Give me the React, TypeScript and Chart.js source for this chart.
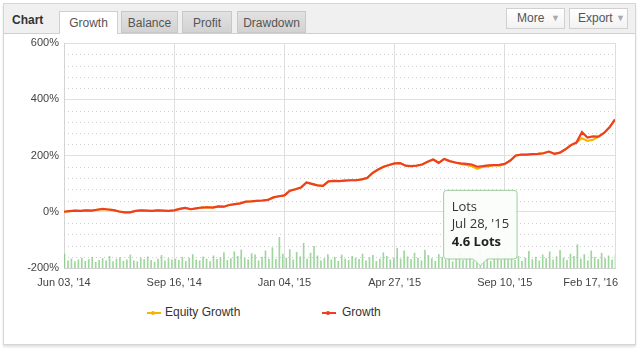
import React, { useEffect, useRef } from "react";
import { Chart, registerables, Tooltip } from "chart.js";

Chart.register(...registerables);

// ---- data ----
const xTickLabels = ["Jun 03, '14", "Sep 16, '14", "Jan 04, '15", "Apr 27, '15", "Sep 10, '15", "Feb 17, '16"];

const growth = [
  0, 2, 4, 3, 5, 4, 7, 10, 8, 6,
  1, -2, -2, 3, 5, 4, 3, 5, 4, 3,
  5, 10, 14, 9, 12, 15, 16, 15, 19, 18,
  24, 27, 30, 36, 37, 39, 40, 42, 51, 55,
  58, 75, 80, 86, 104, 99, 94, 92, 108, 110,
  109, 111, 112, 112, 115, 120, 138, 150, 160, 166,
  172, 173, 164, 162, 164, 168, 178, 186, 174, 188,
  180, 175, 172, 170, 168, 160, 162, 165, 166, 167,
  170, 182, 200, 203, 203, 205, 206, 208, 214, 206,
  210, 222, 237, 246, 283, 264, 268, 267, 280, 300,
  328,
];

const equityGrowth = [
  0, 2, 4, 3, 5, 4, 7, 10, 8, 6,
  1, -2, -2, 3, 5, 4, 3, 5, 4, 3,
  5, 10, 14, 9, 12, 15, 16, 15, 19, 18,
  24, 27, 30, 36, 37, 39, 40, 42, 51, 55,
  58, 75, 80, 86, 104, 99, 94, 92, 108, 110,
  109, 111, 112, 112, 115, 120, 138, 150, 160, 166,
  172, 173, 164, 162, 164, 168, 178, 186, 174, 188,
  180, 175, 170, 166, 162, 152, 160, 161, 166, 164,
  170, 182, 200, 203, 203, 205, 206, 208, 214, 206,
  210, 222, 237, 246, 262, 252, 256, 267, 280, 300,
  328,
];

const lots = [
  3.1, 1.6, 2.0, 1.4, 1.8, 2.2, 1.5, 1.9, 2.4, 1.3, 1.7, 2.1, 1.6, 2.6, 1.4, 2.0,
  2.3, 1.5, 1.8, 2.9, 1.6, 1.4, 2.2, 1.9, 2.5, 1.7, 1.3, 2.0, 2.8, 1.6, 2.1, 1.8,
  2.0, 1.7, 2.4, 1.5, 2.2, 3.0, 1.8, 1.6, 2.5, 2.0, 1.4, 2.7, 1.9, 2.3, 3.4, 1.7,
  2.1, 3.6, 2.6, 4.0, 2.2, 1.8, 3.2, 2.9, 1.6, 2.4, 3.8, 2.0, 4.5, 1.9, 6.8, 3.1,
  2.2, 4.1, 1.8, 3.5, 2.5, 5.5, 2.0, 3.3, 4.8, 2.7, 1.6, 2.1, 3.0, 1.8, 2.4, 1.5,
  2.9, 2.0, 1.7, 2.6, 2.2, 1.9, 3.1, 1.6, 2.3, 2.8, 1.5, 2.0, 3.4, 2.6, 1.8, 2.2,
  4.4, 2.0, 3.8, 2.5, 1.9, 3.3, 2.2, 1.6, 4.0, 2.8, 2.1, 1.5, 3.0, 2.4, 1.8, 2.6,
  1.4, 2.2, 3.5, 1.7, 2.0, 2.9, 1.6, 2.3, 4.6, 1.9, 2.5, 1.5, 2.1, 3.2, 1.8, 2.4,
  2.0, 3.4, 1.7, 2.6, 1.5, 2.2, 3.7, 1.9, 2.4, 1.6, 2.9, 2.1, 3.6, 1.8, 2.5, 3.9,
  2.2, 1.7, 3.1, 2.6, 5.2, 2.0, 3.0, 1.6, 3.8, 2.4, 1.9, 3.3, 2.1, 2.7, 1.8, 3.0,
];

const tooltipIndex = 120;
const tooltipDate = "Jul 28, '15";

const yMin = -200;
const yMax = 600;
const yMajorStep = 200;
const yMinorStep = 40;
const xTickStep = 20;
const lotsAxisMax = 50;

const FONT = '"Liberation Sans", Arial, sans-serif';

(Tooltip as any).positioners.lotsBase = function (items: any[]) {
  if (!items.length) return false;
  const c = (this as any).chart;
  return { x: items[0].element.x, y: c.chartArea.bottom - 2 };
};

const extras = {
  id: "extras",
  beforeDatasetsDraw(chart: any) {
    const { ctx, chartArea: a, scales } = chart;
    const y = scales.y;
    ctx.save();
    ctx.strokeStyle = "#cfcfcf";
    ctx.lineWidth = 1;
    ctx.setLineDash([1, 3]);
    for (let v = yMin; v <= yMax; v += yMinorStep) {
      if (v % yMajorStep === 0) continue;
      const py = Math.round(y.getPixelForValue(v)) + 0.5;
      ctx.beginPath();
      ctx.moveTo(a.left, py);
      ctx.lineTo(a.right, py);
      ctx.stroke();
    }
    ctx.restore();
  },
  afterDraw(chart: any) {
    const { ctx, chartArea: a, scales } = chart;
    const x = scales.x;
    ctx.save();
    ctx.font = "11px " + FONT;
    ctx.fillStyle = "#444";
    ctx.textBaseline = "middle";
    x.ticks.forEach((_t: any, k: number) => {
      const label = xTickLabels[k];
      if (!label) return;
      const px = x.getPixelForTick(k);
      const w = ctx.measureText(label).width;
      let left = px - w / 2;
      if (left + w > a.right + 3) left = a.right + 3 - w;
      ctx.textAlign = "left";
      ctx.fillText(label, left, a.bottom + 15);
    });
    ctx.restore();
  },
};

export default function App() {
  const ref = useRef<HTMLCanvasElement>(null);

  useEffect(() => {
    const canvas = ref.current;
    if (!canvas) return;
    const chart = new Chart(canvas, {
      type: "line",
      data: {
        datasets: [
          {
            label: "Growth",
            data: growth.map((v, i) => ({ x: i, y: v })),
            borderColor: "#ee4020",
            backgroundColor: "#ee4020",
            borderWidth: 2.2,
            pointRadius: 0,
            tension: 0,
            xAxisID: "x",
            yAxisID: "y",
            order: 1,
          } as any,
          {
            label: "Equity Growth",
            data: equityGrowth.map((v, i) => ({ x: i, y: v })),
            borderColor: "#f5b400",
            backgroundColor: "#f5b400",
            borderWidth: 2,
            pointRadius: 0,
            tension: 0,
            xAxisID: "x",
            yAxisID: "y",
            order: 2,
          } as any,
          {
            type: "bar",
            label: "Lots",
            data: lots,
            backgroundColor: "rgba(125,200,125,0.75)",
            hoverBackgroundColor: "rgba(125,200,125,0.75)",
            barThickness: 1,
            xAxisID: "xb",
            yAxisID: "yl",
            order: 3,
          } as any,
        ],
      },
      options: {
        animation: false,
        responsive: false,
        events: [],
        layout: { padding: { top: 43, right: 25, bottom: 32, left: 0 } },
        scales: {
          x: {
            type: "linear",
            min: 0,
            max: growth.length - 1,
            ticks: { stepSize: xTickStep, display: false },
            grid: { color: "#dedede", drawTicks: false },
            border: { color: "#d0d0d0" },
            afterFit: (s: any) => {
              s.height = 0;
            },
          },
          xb: {
            type: "category",
            labels: lots.map((_, i) => String(i)),
            display: false,
            offset: false,
          },
          y: {
            min: yMin,
            max: yMax,
            ticks: {
              stepSize: yMajorStep,
              color: "#444",
              font: { family: FONT, size: 11 },
              padding: 5,
              callback: (v: any) => v + "%",
            },
            grid: { color: "#e0e0e0", drawTicks: false },
            border: { color: "#d4d4d4" },
            afterFit: (s: any) => {
              s.width = 64;
            },
          },
          yl: {
            min: 0,
            max: lotsAxisMax,
            display: false,
          },
        },
        plugins: {
          legend: { display: false },
          tooltip: {
            enabled: true,
            position: "lotsBase" as any,
            xAlign: "center",
            yAlign: "bottom",
            backgroundColor: "rgba(250,253,250,0.95)",
            borderColor: "#9fcc9f",
            borderWidth: 1,
            cornerRadius: 3,
            caretSize: 7,
            caretPadding: 0,
            padding: 8,
            displayColors: false,
            titleColor: "#333",
            bodyColor: "#222",
            titleFont: { family: '"Open Sans", sans-serif', size: 13, weight: "normal", lineHeight: 1.35 },
            bodyFont: { family: '"Open Sans", sans-serif', size: 13, weight: "bold", lineHeight: 1.35 },
            titleSpacing: 0,
            titleMarginBottom: 0,
            callbacks: {
              title: () => ["Lots", tooltipDate],
              label: (ctx: any) => `${ctx.raw} Lots`,
            },
          },
        },
      },
      plugins: [extras],
    } as any);

    chart.tooltip!.setActiveElements([{ datasetIndex: 2, index: tooltipIndex }], { x: 0, y: 0 });
    chart.update();

    return () => chart.destroy();
  }, []);

  const tabBase: React.CSSProperties = {
    position: "absolute",
    top: 11,
    height: 22,
    lineHeight: "22px",
    textAlign: "center",
    fontSize: 12,
    color: "#555",
    boxSizing: "border-box",
  };
  const inactive: React.CSSProperties = {
    ...tabBase,
    background: "linear-gradient(#e2e2e2, #d2d2d2)",
    border: "1px solid #c8c8c8",
  };
  const btn: React.CSSProperties = {
    position: "absolute",
    top: 8,
    height: 21,
    width: 59,
    boxSizing: "border-box",
    border: "1px solid #d0d0d0",
    background: "linear-gradient(#ffffff, #f2f2f2)",
    fontSize: 12,
    color: "#555",
    lineHeight: "19px",
  };
  const marker = (color: string): React.CSSProperties => ({
    position: "absolute",
    width: 14,
    height: 2,
    background: color,
  });

  return (
    <div
      style={{
        position: "absolute",
        left: 0,
        top: 0,
        width: 640,
        height: 353,
        background: "#fff",
        fontFamily: FONT,
        overflow: "hidden",
      }}
    >
      <div
        style={{
          position: "absolute",
          left: 3,
          top: 3,
          width: 633,
          height: 342,
          boxSizing: "border-box",
          border: "1px solid #d6d6d6",
          background: "#fff",
          boxShadow: "0 2px 2px rgba(0,0,0,0.12)",
        }}
      />
      <div
        style={{
          position: "absolute",
          left: 4,
          top: 4,
          width: 631,
          height: 29,
          background: "#f0f0f0",
          borderBottom: "1px solid #d0d0d0",
        }}
      />
      <div style={{ position: "absolute", left: 12, top: 13, fontSize: 12, fontWeight: "bold", color: "#333" }}>Chart</div>
      <div
        style={{
          ...tabBase,
          left: 59,
          width: 59,
          height: 23,
          background: "#fff",
          border: "1px solid #d0d0d0",
          borderBottom: "none",
        }}
      >
        Growth
      </div>
      <div style={{ ...inactive, left: 121, width: 57 }}>Balance</div>
      <div style={{ ...inactive, left: 182, width: 50 }}>Profit</div>
      <div style={{ ...inactive, left: 237, width: 69 }}>Drawdown</div>
      <div style={{ ...btn, left: 506 }}>
        <span style={{ position: "absolute", left: 10 }}>More</span>
        <span style={{ position: "absolute", left: 44, fontSize: 9, color: "#aaa" }}>▼</span>
      </div>
      <div style={{ ...btn, left: 569 }}>
        <span style={{ position: "absolute", left: 8 }}>Export</span>
        <span style={{ position: "absolute", left: 46, fontSize: 9, color: "#aaa" }}>▼</span>
      </div>

      <canvas ref={ref} width={640} height={300} style={{ position: "absolute", left: 0, top: 0, width: 640, height: 300 }} />

      <div style={{ ...marker("#f5b400"), left: 147, top: 312 }} />
      <div style={{ position: "absolute", left: 151, top: 311, width: 4, height: 4, borderRadius: 2, background: "#f5b400" }} />
      <div style={{ position: "absolute", left: 165, top: 305, fontSize: 12, color: "#333" }}>Equity Growth</div>
      <div style={{ ...marker("#ee4020"), left: 322, top: 312 }} />
      <div style={{ position: "absolute", left: 326, top: 311, width: 4, height: 4, borderRadius: 2, background: "#ee4020" }} />
      <div style={{ position: "absolute", left: 342, top: 305, fontSize: 12, color: "#333" }}>Growth</div>
    </div>
  );
}
